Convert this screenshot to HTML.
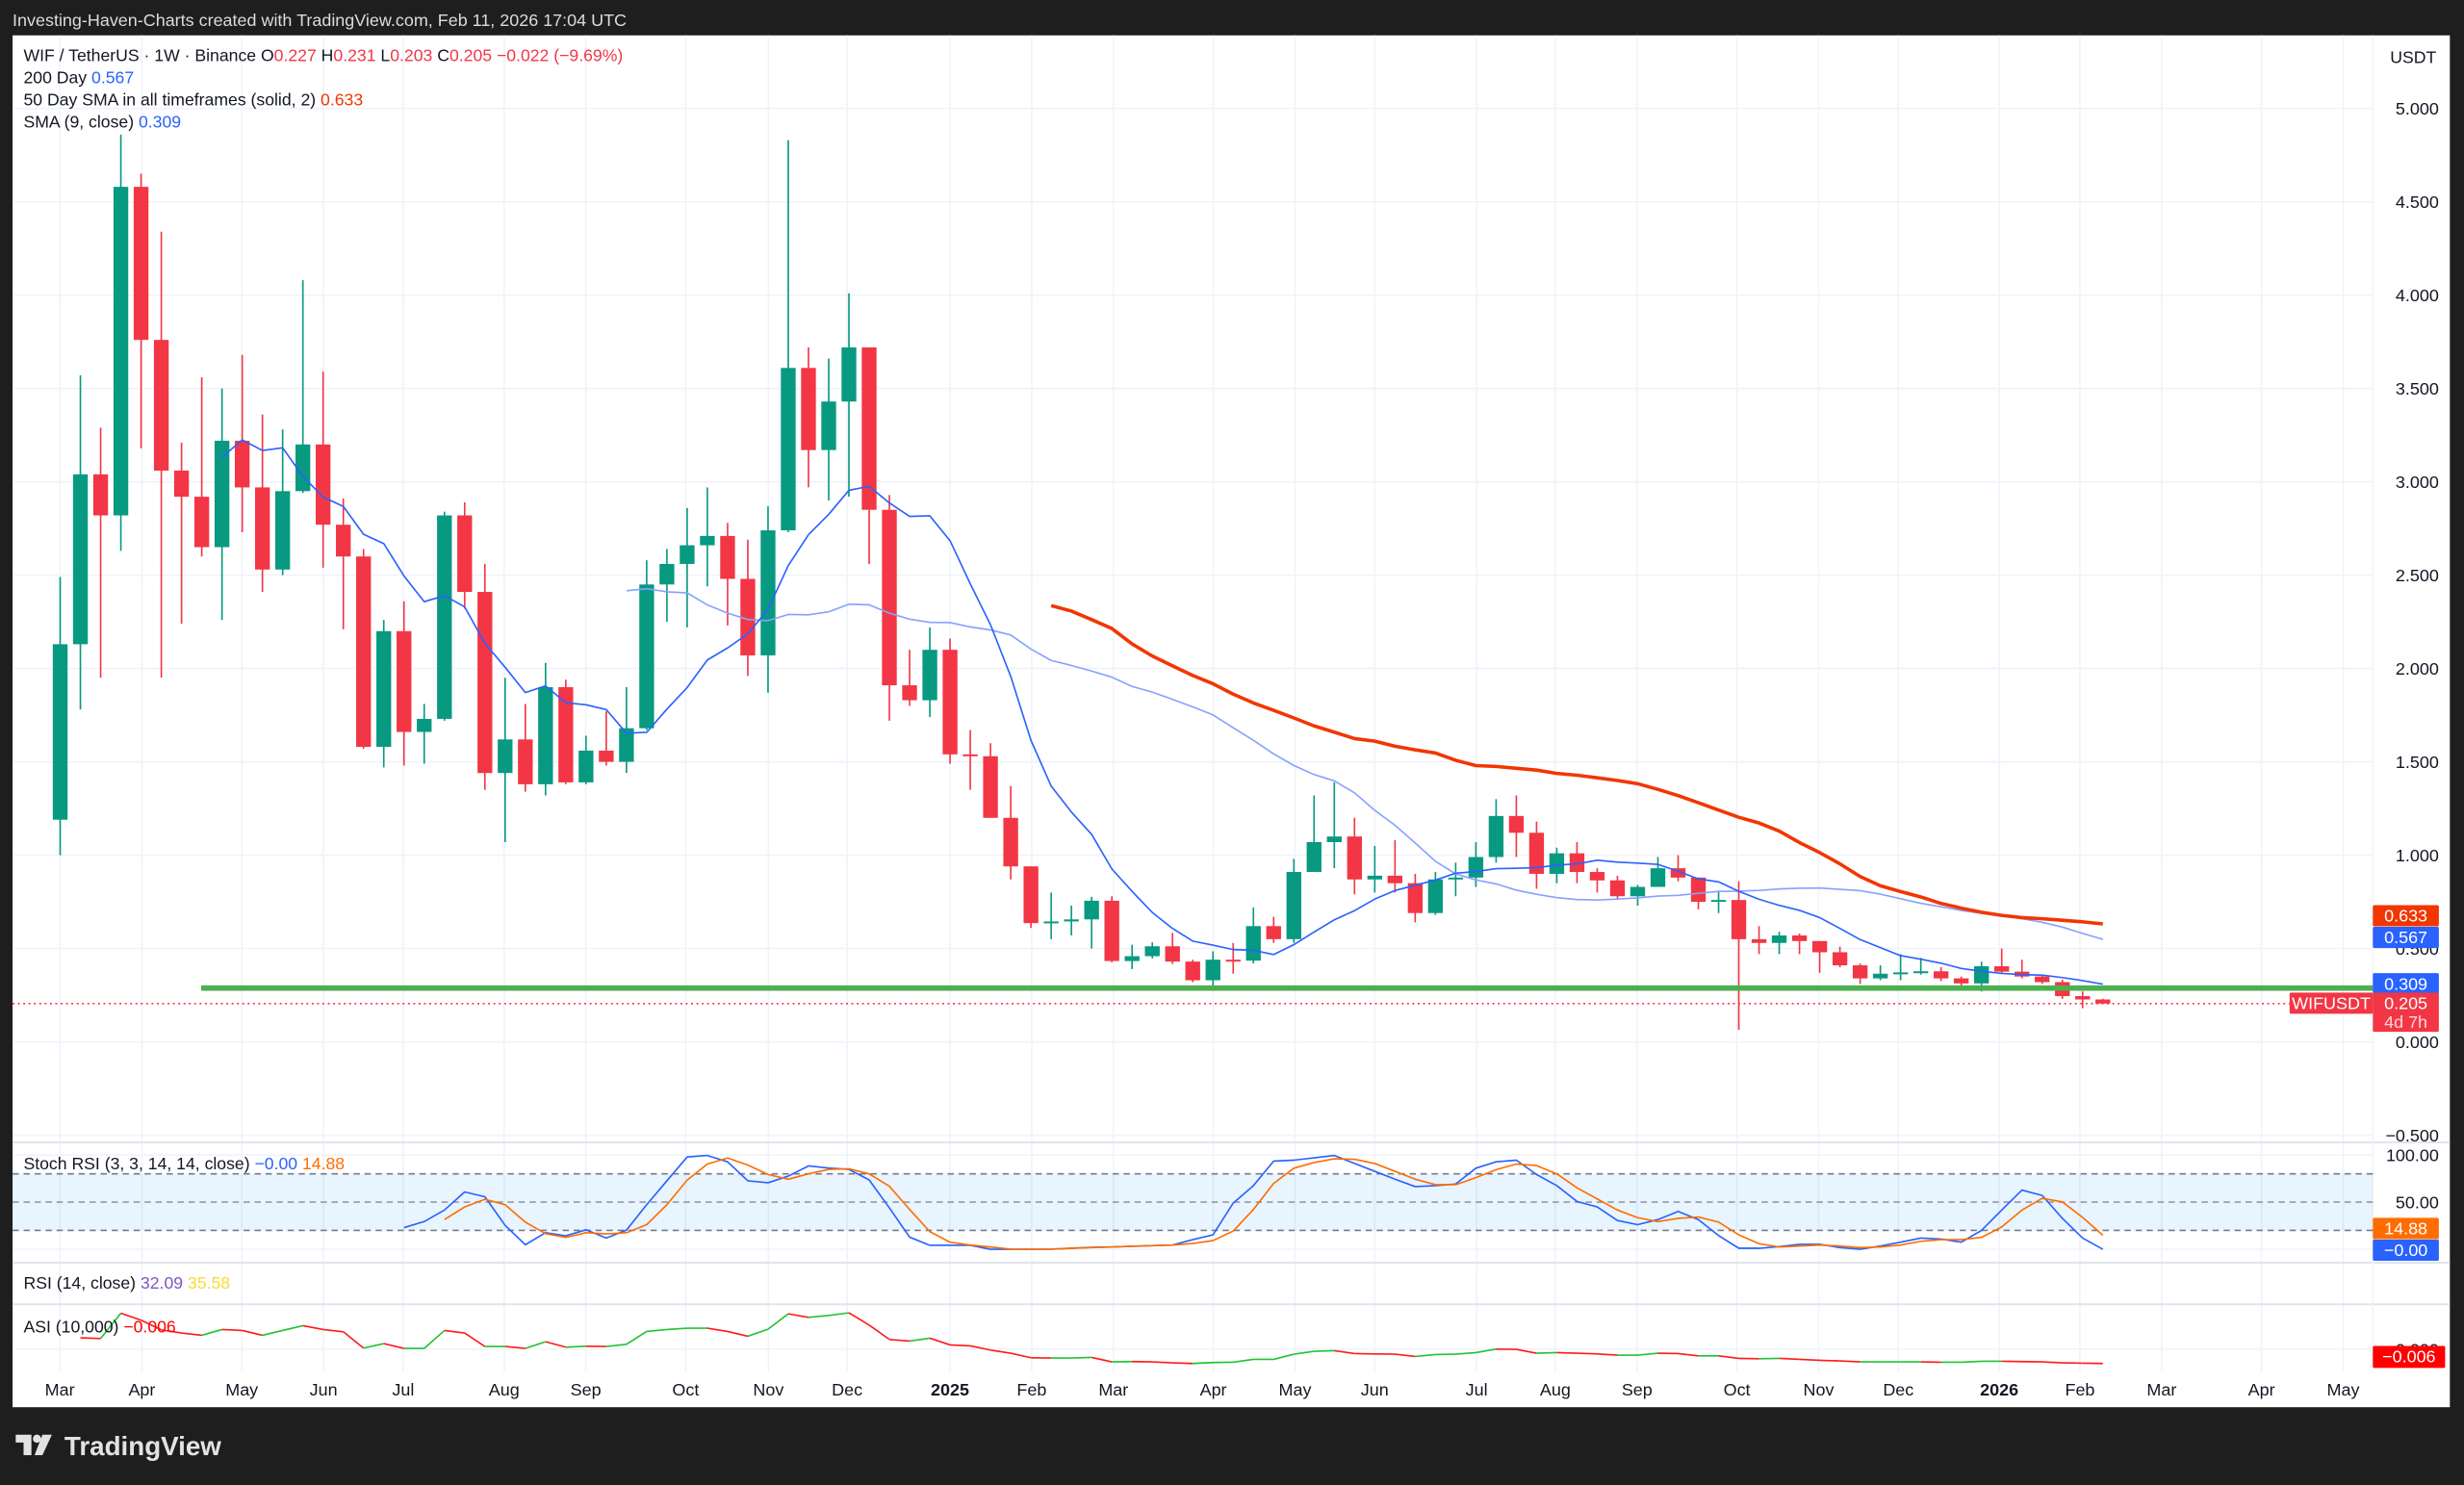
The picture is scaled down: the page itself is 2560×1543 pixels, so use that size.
<!DOCTYPE html>
<html><head><meta charset="utf-8"><style>
html,body{margin:0;padding:0;background:#1e1e1e;}
svg{display:block;font-family:"Liberation Sans",Arial,sans-serif;}
</style></head><body>
<svg id="chart" xmlns="http://www.w3.org/2000/svg" width="2560" height="1543" viewBox="0 0 1568 945" preserveAspectRatio="none">
<rect x="0" y="0" width="1568" height="945" fill="#1e1e1e"/>
<text x="8" y="16.5" font-size="11" fill="#dcdcdc">Investing-Haven-Charts created with TradingView.com, Feb 11, 2026 17:04 UTC</text>
<rect x="8" y="22.5" width="1551" height="873" fill="#ffffff"/>
<g id="grid"></g>
<g id="price"></g>
<g id="stoch"></g>
<g id="asi"></g>
<g id="axes"></g>
<g font-size="10.8" fill="#131722">
<text x="15" y="39">WIF / TetherUS · 1W · Binance  O<tspan fill="#f23645">0.227</tspan>  H<tspan fill="#f23645">0.231</tspan>  L<tspan fill="#f23645">0.203</tspan>  C<tspan fill="#f23645">0.205</tspan>  <tspan fill="#f23645">−0.022 (−9.69%)</tspan></text>
<text x="15" y="53">200 Day  <tspan fill="#2962ff">0.567</tspan></text>
<text x="15" y="67">50 Day SMA in all timeframes (solid, 2)  <tspan fill="#f23600">0.633</tspan></text>
<text x="15" y="81">SMA (9, close)  <tspan fill="#2962ff">0.309</tspan></text>
<text x="15" y="744">Stoch RSI (3, 3, 14, 14, close)  <tspan fill="#2962ff">−0.00</tspan>  <tspan fill="#ff6d00">14.88</tspan></text>
<text x="15" y="820">RSI (14, close)  <tspan fill="#7e57c2">32.09</tspan>  <tspan fill="#fdd835">35.58</tspan></text>
<text x="15" y="848">ASI (10,000)  <tspan fill="#ff0000">−0.006</tspan></text>
<text x="1521" y="40">USDT</text>
</g>
<g fill="#e3e3e3">
<path d="M10 913h10v13h-5v-8h-5z"/>
<circle cx="23.5" cy="915.5" r="2.6"/>
<path d="M27 913h6l-6 13h-5z"/>
<text x="41" y="926" font-size="17" font-weight="bold">TradingView</text>
</g>
</svg>
<script>
const opens=[1.19,2.13,3.04,2.82,4.58,3.76,3.06,2.92,2.65,3.22,2.97,2.53,2.95,3.20,2.77,2.60,1.58,2.20,1.66,1.73,2.82,2.41,1.44,1.62,1.38,1.90,1.39,1.56,1.50,1.68,2.45,2.56,2.66,2.71,2.48,2.07,2.74,3.61,3.17,3.43,3.72,2.85,1.91,1.83,2.10,1.54,1.53,1.20,0.94,0.636,0.645,0.656,0.756,0.433,0.459,0.512,0.43,0.33,0.44,0.435,0.62,0.55,0.91,1.07,1.10,0.87,0.89,0.85,0.69,0.87,0.88,0.99,1.21,1.12,0.90,1.01,0.91,0.865,0.78,0.83,0.93,0.88,0.75,0.76,0.55,0.53,0.57,0.54,0.48,0.41,0.34,0.365,0.372,0.378,0.34,0.313,0.405,0.376,0.35,0.32,0.245,0.227];
const highs=[2.49,3.57,3.29,4.86,4.65,4.34,3.21,3.56,3.50,3.68,3.36,3.28,4.08,3.59,2.91,2.64,2.26,2.36,1.81,2.84,2.89,2.56,1.95,1.81,2.03,1.94,1.64,1.77,1.90,2.58,2.64,2.86,2.97,2.78,2.69,2.87,4.83,3.72,3.66,4.01,3.72,2.93,2.10,2.22,2.16,1.67,1.60,1.37,0.94,0.80,0.73,0.777,0.78,0.52,0.533,0.584,0.44,0.485,0.53,0.72,0.67,0.98,1.32,1.39,1.20,1.05,1.08,0.90,0.91,0.96,1.07,1.30,1.32,1.18,1.04,1.07,0.93,0.89,0.84,0.99,1.00,0.88,0.81,0.86,0.62,0.59,0.58,0.54,0.51,0.42,0.41,0.47,0.45,0.40,0.35,0.43,0.50,0.44,0.36,0.333,0.27,0.231];
const lows=[1.00,1.78,1.95,2.63,3.18,1.95,2.24,2.60,2.26,2.73,2.41,2.50,2.94,2.54,2.21,1.57,1.47,1.48,1.49,1.72,2.32,1.35,1.07,1.34,1.32,1.38,1.38,1.48,1.44,1.67,2.25,2.22,2.44,2.23,1.96,1.87,2.73,2.97,2.90,2.92,2.56,1.72,1.80,1.74,1.49,1.35,1.20,0.87,0.61,0.55,0.57,0.50,0.426,0.39,0.447,0.417,0.32,0.30,0.365,0.42,0.53,0.53,0.91,0.93,0.79,0.80,0.80,0.64,0.68,0.78,0.83,0.96,0.99,0.82,0.85,0.85,0.80,0.76,0.73,0.83,0.86,0.71,0.69,0.065,0.47,0.47,0.47,0.37,0.40,0.31,0.33,0.33,0.36,0.325,0.30,0.27,0.37,0.34,0.31,0.23,0.18,0.203];
const closes=[2.13,3.04,2.82,4.58,3.76,3.06,2.92,2.65,3.22,2.97,2.53,2.95,3.20,2.77,2.60,1.58,2.20,1.66,1.73,2.82,2.41,1.44,1.62,1.38,1.90,1.39,1.56,1.50,1.68,2.45,2.56,2.66,2.71,2.48,2.07,2.74,3.61,3.17,3.43,3.72,2.85,1.91,1.83,2.10,1.54,1.53,1.20,0.94,0.636,0.645,0.656,0.756,0.433,0.459,0.512,0.43,0.33,0.44,0.435,0.62,0.55,0.91,1.07,1.10,0.87,0.89,0.85,0.69,0.87,0.88,0.99,1.21,1.12,0.90,1.01,0.91,0.865,0.78,0.83,0.93,0.88,0.75,0.76,0.55,0.53,0.57,0.54,0.48,0.41,0.34,0.365,0.372,0.378,0.34,0.313,0.405,0.376,0.35,0.32,0.245,0.227,0.205];
const stochKStart=17;
const stochK=[23.0,29.4,41.6,60.8,55.7,25.4,4.8,17.6,14.3,20.7,11.9,20.3,47.3,72.6,97.9,99.5,92.8,72.6,70.6,77.6,88.4,86.1,84.7,73.6,43.9,12.9,4.2,4.2,4.2,0,0,0,0.1,1.1,2.1,2.5,3.2,3.8,4.5,10.2,15.3,49,67.5,93.5,94.5,97,99.5,91,82.7,74.3,66.5,67.5,69.2,86,92.8,94.5,79.3,67.5,50.7,44.9,30.5,26.1,31.5,40.2,31.5,14.6,1.1,1.1,2.8,5.2,5.2,1.8,0,3.5,7.5,11.9,10.9,7.5,20,41.6,62.8,57.1,32.8,11.9,0];
const stochDStart=19;
const stochD=[31.5,44.9,53,47.3,28.8,16.6,12.6,17.6,16.3,17.6,26.1,47.3,73.3,90.4,96.8,89.4,79.3,74.3,80,84.7,85.4,80,66.9,42.2,18.7,7.5,4.5,2.5,0.1,0,0.1,1.1,1.8,2.5,3.2,3.8,4.5,6.2,9.2,19.3,42.2,69.9,86,92,96,95.5,91,82.7,74.3,68.5,68.5,76,84.4,90.4,88.8,80,65.2,53.4,41.6,33.5,29.4,32.8,34.2,28.8,15.3,5.9,2.5,3.5,4.5,3.5,1.8,2.5,4.5,8.5,10.2,10.2,12.6,23.7,41.6,54,50.3,33.8,14.9];
const asiStart=1;
const asiVals=[0.35,0.33,1.12,0.90,0.60,0.50,0.43,0.61,0.58,0.43,0.58,0.73,0.61,0.54,0.03,0.17,0.02,0.02,0.58,0.50,0.08,0.08,0.02,0.23,0.06,0.09,0.08,0.15,0.55,0.61,0.65,0.65,0.55,0.40,0.62,1.10,0.99,1.05,1.13,0.75,0.30,0.25,0.34,0.13,0.10,-0.03,-0.13,-0.27,-0.28,-0.28,-0.26,-0.40,-0.39,-0.40,-0.43,-0.45,-0.42,-0.41,-0.32,-0.32,-0.16,-0.07,-0.05,-0.14,-0.15,-0.16,-0.23,-0.17,-0.16,-0.11,0,-0.01,-0.13,-0.11,-0.13,-0.15,-0.19,-0.19,-0.13,-0.14,-0.21,-0.21,-0.29,-0.30,-0.29,-0.32,-0.35,-0.37,-0.40,-0.40,-0.40,-0.40,-0.41,-0.41,-0.38,-0.38,-0.39,-0.40,-0.43,-0.44,-0.45];
const priceTicks=["5.000","4.500","4.000","3.500","3.000","2.500","2.000","1.500","1.000","0.500","0.000","−0.500"];
const priceTickVals=[5,4.5,4,3.5,3,2.5,2,1.5,1,0.5,0,-0.5];
const monthLabels=["Mar","Apr","May","Jun","Jul","Aug","Sep","Oct","Nov","Dec","2025","Feb","Mar","Apr","May","Jun","Jul","Aug","Sep","Oct","Nov","Dec","2026","Feb","Mar","Apr","May"];
const monthWeeks=[-0.02,4.05,9.0,13.05,17.0,22.0,26.05,31.0,35.1,39.0,44.1,48.15,52.2,57.15,61.2,65.15,70.2,74.1,78.15,83.1,87.15,91.1,96.1,100.1,104.15,109.1,113.15];
const greenLevel=0.288;

const NS="http://www.w3.org/2000/svg";
const X0=38.3, DX=12.87, PLOT_R=1510;
const xOf=i=>X0+DX*i;
const yP=v=>663-v*118.8;
const yS=v=>795-v*0.6;
const yA=v=>858.5-v*20.4;
function mk(tag,parent,attrs){const e=document.createElementNS(NS,tag);for(const k in attrs)e.setAttribute(k,attrs[k]);parent.appendChild(e);return e;}
const grid=document.getElementById('grid'), price=document.getElementById('price'), stoch=document.getElementById('stoch'), asi=document.getElementById('asi'), axes=document.getElementById('axes');

monthWeeks.forEach((w,k)=>{
  const x=X0+12.84*w;
  const l=mk('line',grid,{x1:x,x2:x,y1:22.5,y2:873,stroke:'#f0f3fa','stroke-width':1});
  
  
  const bold=monthLabels[k]==='2025'||monthLabels[k]==='2026';
  const t=mk('text',axes,{x:x,y:888,'font-size':11,'text-anchor':'middle',fill:'#131722','font-weight':bold?'bold':'normal'});
  t.textContent=monthLabels[k];
  
  
});
priceTickVals.forEach((v,k)=>{
  const y=yP(v);
  const l=mk('line',grid,{x1:8,x2:PLOT_R,y1:y,y2:y,stroke:'#f0f3fa','stroke-width':1});
  
  
  const t=mk('text',axes,{x:1552,y:y+4,'font-size':11,'text-anchor':'end',fill:'#131722'});
  t.textContent=priceTicks[k];
  
  
});
[727,803.5,830].forEach(y=>{
  const l=mk('line',grid,{x1:8,x2:1559,y1:y,y2:y,stroke:'#e0e3eb','stroke-width':1.2});
  
  
});
const ax=mk('line',grid,{x1:PLOT_R,x2:PLOT_R,y1:22.5,y2:873,stroke:'#f0f3fa','stroke-width':1});



const dot=mk('line',price,{x1:8,x2:1457,y1:yP(closes[closes.length-1]),y2:yP(closes[closes.length-1]),stroke:'#f23645','stroke-width':1,'stroke-dasharray':'1.2 2.2'});



const up='#089981', dn='#f23645', BW=9.4;
closes.forEach((c,i)=>{
  const o=opens[i], col=c>=o?up:dn, x=xOf(i);
  const g=mk('g',price,{});
  
  
  mk('line',g,{x1:x,x2:x,y1:yP(highs[i]),y2:yP(lows[i]),stroke:col,'stroke-width':1});
  const top=Math.min(yP(o),yP(c)), h=Math.max(Math.abs(yP(o)-yP(c)),1.2);
  mk('rect',g,{x:x-BW/2,y:top,width:BW,height:h,fill:col});
});

function sma(n){const out=[];for(let i=0;i<closes.length;i++){if(i<n-1){out.push(null);continue;}let s=0;for(let j=i-n+1;j<=i;j++)s+=closes[j];out.push(s/n);}return out;}
function drawLine(vals,parent,yf,color,w,name,start){
  let d='';vals.forEach((v,k)=>{if(v===null)return;const i=(start||0)+k;d+=(d?'L':'M')+xOf(i).toFixed(2)+' '+yf(v).toFixed(2);});
  const p=mk('path',parent,{d:d,fill:'none',stroke:color,'stroke-width':w,'stroke-linejoin':'round'});
  
  
  return p;
}
const ma200=sma(29), ma50=sma(50), ma9=sma(9);
drawLine(ma200,price,yP,'#86a2ff',1,'ma200-line');
drawLine(ma9,price,yP,'#2962ff',1,'sma9-line');
drawLine(ma50,price,yP,'#f23600',2.2,'sma50-line');
const gl=mk('line',price,{x1:128,x2:PLOT_R,y1:yP(greenLevel),y2:yP(greenLevel),stroke:'#4caf50','stroke-width':3.4});



const band=mk('rect',stoch,{x:8,y:yS(80),width:PLOT_R-8,height:yS(20)-yS(80),fill:'#2196f3','fill-opacity':0.1});


[100,0].forEach(v=>{const l=mk('line',stoch,{x1:8,x2:PLOT_R,y1:yS(v),y2:yS(v),stroke:'#f0f3fa','stroke-width':1});

});
[80,50,20].forEach(v=>{const l=mk('line',stoch,{x1:8,x2:PLOT_R,y1:yS(v),y2:yS(v),stroke:v===50?'#9598a1':'#787b86','stroke-width':1,'stroke-dasharray':'4 3'});

});
drawLine(stochK,stoch,yS,'#2962ff',1,'stoch-k-line',stochKStart);
drawLine(stochD,stoch,yS,'#ff6d00',1,'stoch-d-line',stochDStart);
[['100.00',100],['50.00',50]].forEach(a=>{const t=mk('text',axes,{x:1552,y:yS(a[1])+4,'font-size':11,'text-anchor':'end',fill:'#131722'});t.textContent=a[0];

});

const az=mk('line',asi,{x1:8,x2:PLOT_R,y1:yA(0),y2:yA(0),stroke:'#f0f3fa','stroke-width':1});


for(let k=1;k<asiVals.length;k++){
  const i=asiStart+k;
  const s=mk('line',asi,{x1:xOf(i-1),y1:yA(asiVals[k-1]),x2:xOf(i),y2:yA(asiVals[k]),stroke:asiVals[k]>=asiVals[k-1]?'#22c232':'#ff1a1a','stroke-width':1});
  
  
}
const at=mk('text',axes,{x:1552,y:yA(0)+4,'font-size':11,'text-anchor':'end',fill:'#131722'});at.textContent='0.000';



function badge(y,h,fill,txt,name,x,w){
  const g=mk('g',axes,{});
  
  
  mk('rect',g,{x:x||1510,y:y,width:w||42,height:h,fill:fill,rx:1});
  txt.forEach((t,k)=>{const e=mk('text',g,{x:(x||1510)+(w||42)/2,y:y+10.5+k*12,'font-size':11,'text-anchor':'middle',fill:k?'#ffd6da':'#ffffff'});e.textContent=t;});
}
badge(576,13.5,'#f23600',['0.633'],'sma50-value-badge');
badge(589.8,13.5,'#2962ff',['0.567'],'ma200-value-badge');
badge(yP(0.309)-7,13.5,'#2962ff',['0.309'],'sma9-value-badge');
badge(yP(0.205)-7,25,'#f23645',['0.205','4d 7h'],'last-price-badge');
badge(yP(0.205)-7,13.5,'#f23645',['WIFUSDT'],'symbol-badge',1457,53);
badge(775,13.5,'#ff6d00',['14.88'],'stoch-d-badge');
badge(788.8,13.5,'#2962ff',['−0.00'],'stoch-k-badge');
badge(yA(0)-2,14,'#ff0000',['−0.006'],'asi-value-badge',1510,46);
</script>
</body></html>
